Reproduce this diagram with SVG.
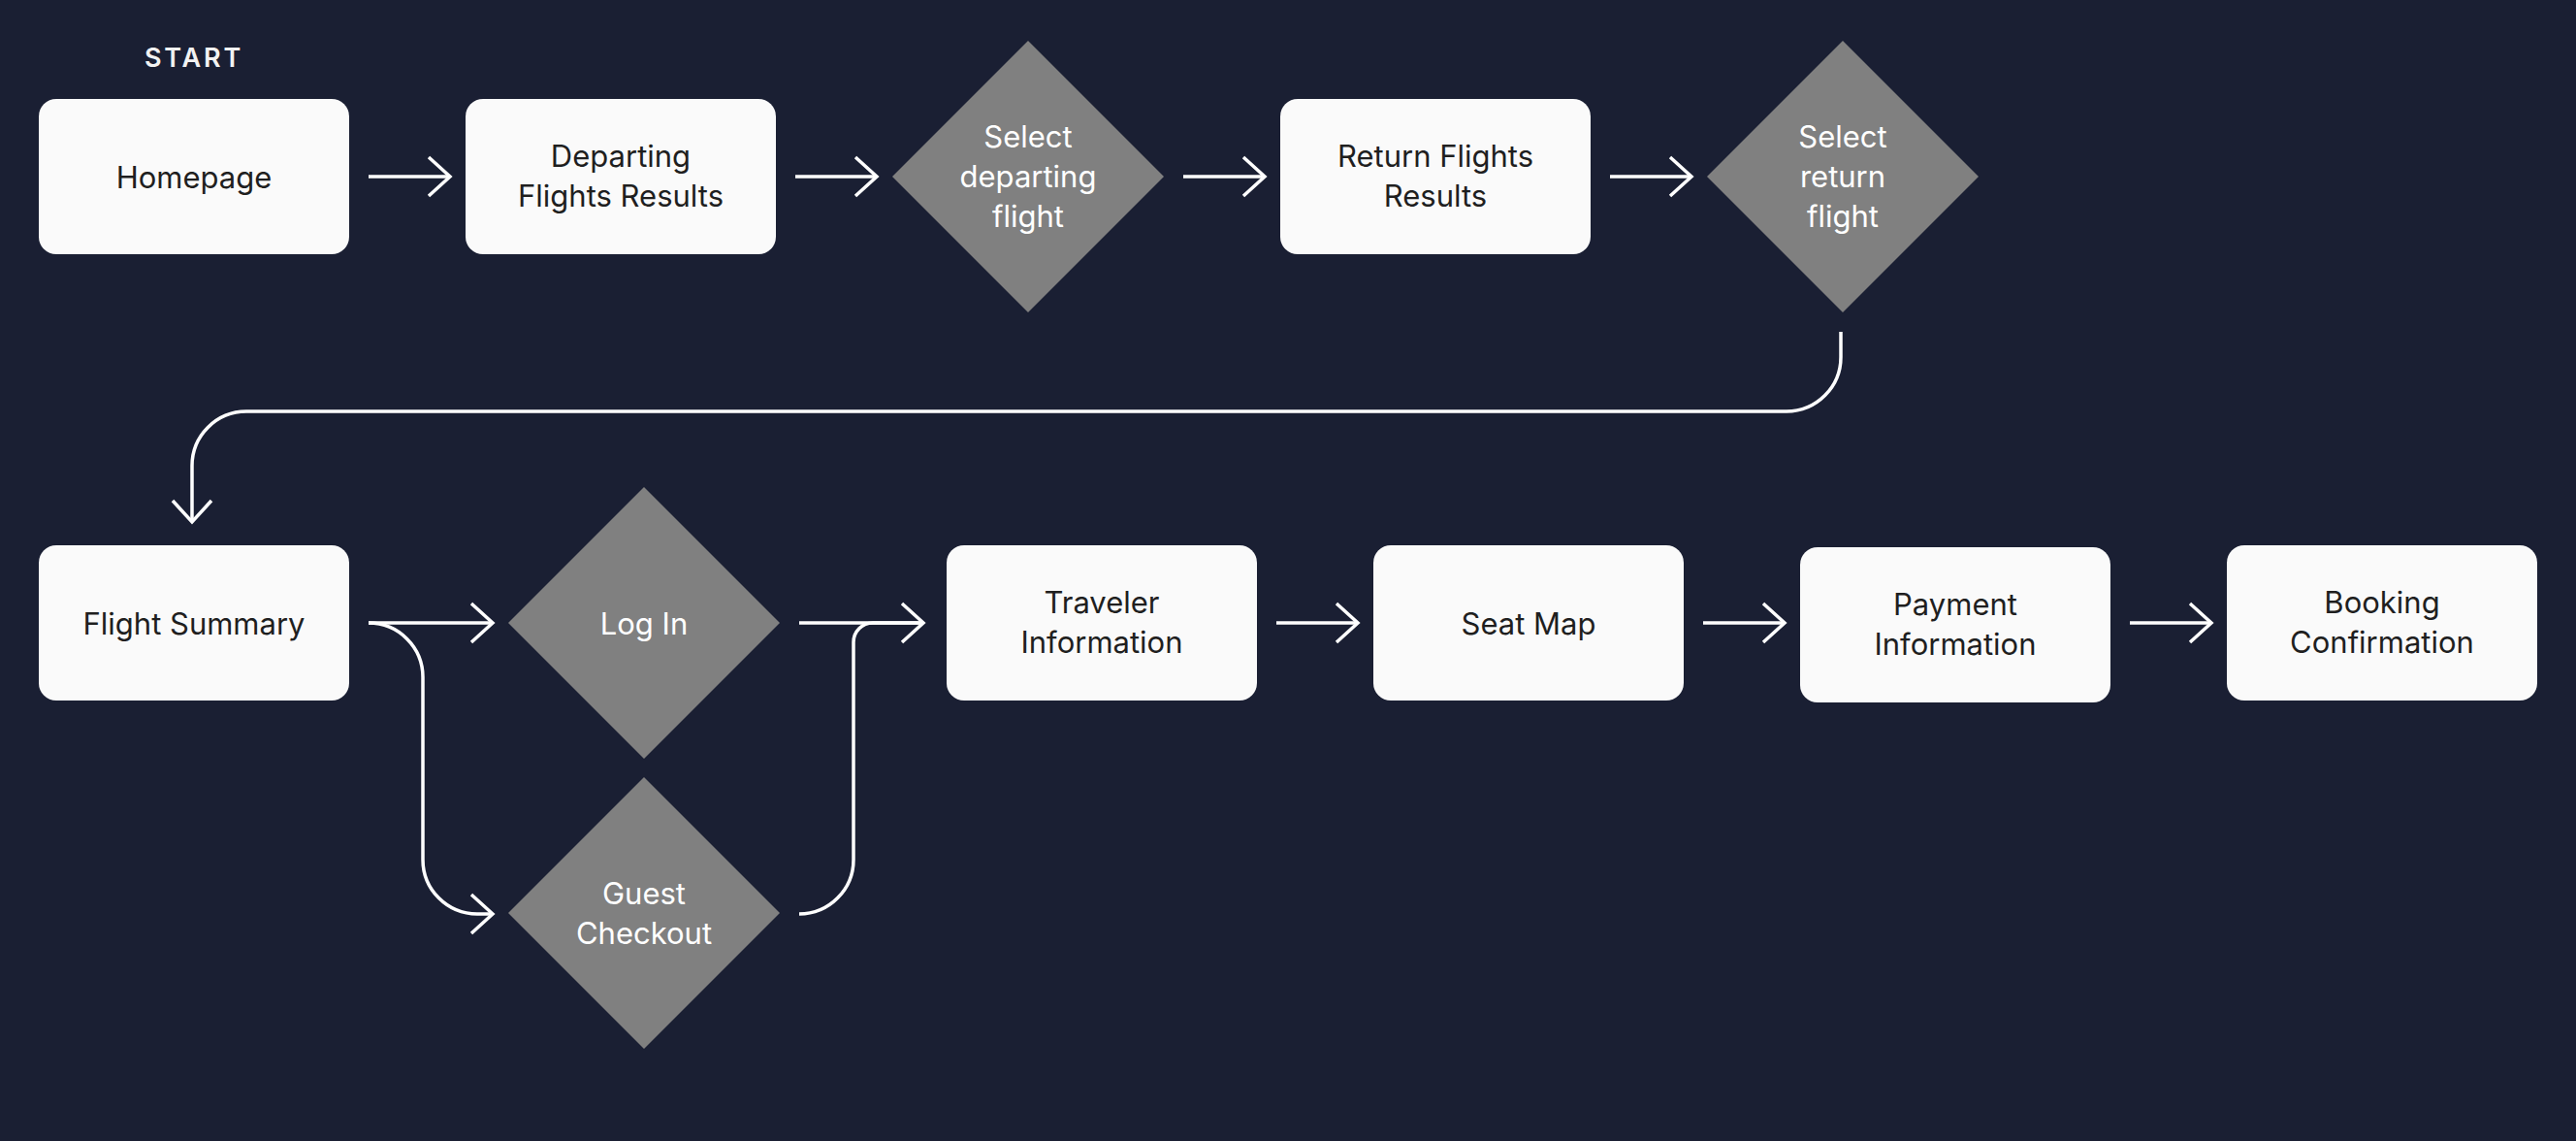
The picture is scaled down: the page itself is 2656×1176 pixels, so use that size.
<svg xmlns="http://www.w3.org/2000/svg" width="2656" height="1176" viewBox="0 0 2656 1176">
<defs>
<style>
.box{fill:#fafafa;}
.dia{fill:#808080;}
.bt{font-family:Inter,"Noto Sans","Liberation Sans",sans-serif;font-size:31px;fill:#1f1f1f;text-anchor:middle;}
.dt{font-family:Inter,"Noto Sans","Liberation Sans",sans-serif;font-size:31px;fill:#ffffff;text-anchor:middle;}
.start{font-family:Inter,"Noto Sans","Liberation Sans",sans-serif;font-size:27px;font-weight:600;fill:#f2f2f2;text-anchor:middle;letter-spacing:2.8px;}
.con{fill:none;stroke:#ffffff;stroke-width:3.5;}
</style>
<marker id="arr" markerUnits="userSpaceOnUse" markerWidth="60" markerHeight="60" viewBox="-30 -30 60 60" refX="0" refY="0" orient="auto">
<path d="M-22,-20 L0,0 L-22,20" fill="none" stroke="#ffffff" stroke-width="3.5"/>
</marker>
</defs>
<rect x="0" y="0" width="2656" height="1176" fill="#1a1f33"/>
<text class="start" x="200" y="69">START</text>

<g id="connectors">
<path class="con" d="M380 182 H464" marker-end="url(#arr)"/>
<path class="con" d="M820 182 H904" marker-end="url(#arr)"/>
<path class="con" d="M1220 182 H1304" marker-end="url(#arr)"/>
<path class="con" d="M1660 182 H1744" marker-end="url(#arr)"/>
<path class="con" d="M1898 342 V368 A56 56 0 0 1 1842 424 H254 A56 56 0 0 0 198 480 V538" marker-end="url(#arr)"/>
<path class="con" d="M380 642 H508" marker-end="url(#arr)"/>
<path class="con" d="M380 642 A56 56 0 0 1 436 698 V886 A56 56 0 0 0 492 942 H508" marker-end="url(#arr)"/>
<path class="con" d="M824 642 H952" marker-end="url(#arr)"/>
<path class="con" d="M824 942 A56 56 0 0 0 880 886 V662 A20 20 0 0 1 900 642 H950"/>
<path class="con" d="M1316 642 H1400" marker-end="url(#arr)"/>
<path class="con" d="M1756 642 H1840" marker-end="url(#arr)"/>
<path class="con" d="M2196 642 H2280" marker-end="url(#arr)"/>
</g>

<g id="homepage">
<rect class="box" x="40" y="102" width="320" height="160" rx="18"/>
<text class="bt" x="200" y="194">Homepage</text>
</g>
<g id="departing-results">
<rect class="box" x="480" y="102" width="320" height="160" rx="18"/>
<text class="bt" x="640" y="172">Departing</text>
<text class="bt" x="640" y="213">Flights Results</text>
</g>
<g id="select-departing">
<polygon class="dia" points="1060,42 1200,182 1060,322 920,182"/>
<text class="dt" x="1060" y="152">Select</text>
<text class="dt" x="1060" y="193">departing</text>
<text class="dt" x="1060" y="234">flight</text>
</g>
<g id="return-results">
<rect class="box" x="1320" y="102" width="320" height="160" rx="18"/>
<text class="bt" x="1480" y="172">Return Flights</text>
<text class="bt" x="1480" y="213">Results</text>
</g>
<g id="select-return">
<polygon class="dia" points="1900,42 2040,182 1900,322 1760,182"/>
<text class="dt" x="1900" y="152">Select</text>
<text class="dt" x="1900" y="193">return</text>
<text class="dt" x="1900" y="234">flight</text>
</g>

<g id="flight-summary">
<rect class="box" x="40" y="562" width="320" height="160" rx="18"/>
<text class="bt" x="200" y="654">Flight Summary</text>
</g>
<g id="log-in">
<polygon class="dia" points="664,502 804,642 664,782 524,642"/>
<text class="dt" x="664" y="654">Log In</text>
</g>
<g id="guest-checkout">
<polygon class="dia" points="664,801 804,941 664,1081 524,941"/>
<text class="dt" x="664" y="932">Guest</text>
<text class="dt" x="664" y="973">Checkout</text>
</g>
<g id="traveler-info">
<rect class="box" x="976" y="562" width="320" height="160" rx="18"/>
<text class="bt" x="1136" y="632">Traveler</text>
<text class="bt" x="1136" y="673">Information</text>
</g>
<g id="seat-map">
<rect class="box" x="1416" y="562" width="320" height="160" rx="18"/>
<text class="bt" x="1576" y="654">Seat Map</text>
</g>
<g id="payment-info">
<rect class="box" x="1856" y="564" width="320" height="160" rx="18"/>
<text class="bt" x="2016" y="634">Payment</text>
<text class="bt" x="2016" y="675">Information</text>
</g>
<g id="booking-confirmation">
<rect class="box" x="2296" y="562" width="320" height="160" rx="18"/>
<text class="bt" x="2456" y="632">Booking</text>
<text class="bt" x="2456" y="673">Confirmation</text>
</g>
</svg>
